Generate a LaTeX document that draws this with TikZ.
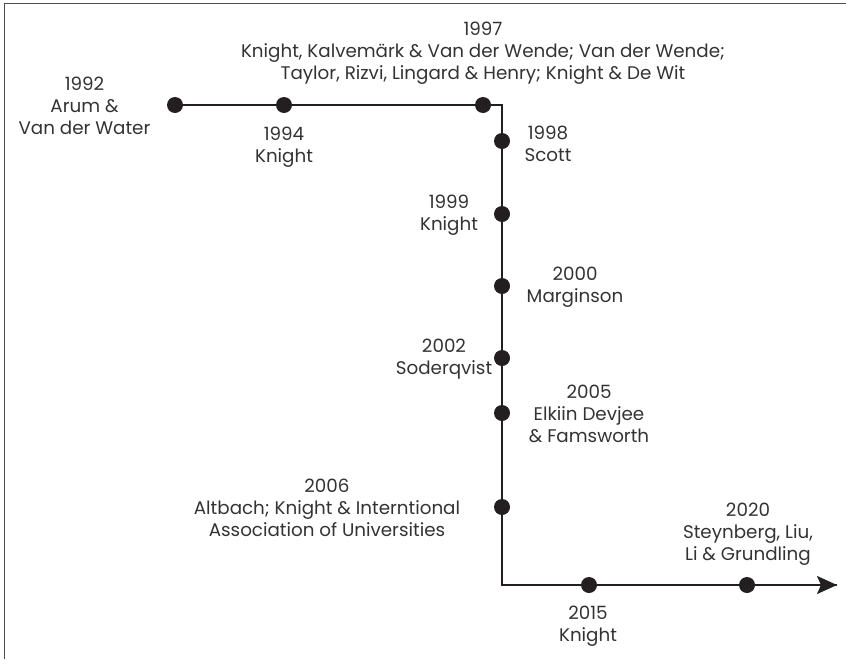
\documentclass[tikz,border=0pt]{standalone}
\usepackage{fontspec}
\setmainfont{Poppins}
\usetikzlibrary{arrows.meta}
\definecolor{ink}{HTML}{231F20}
\definecolor{txt}{HTML}{333333}
\begin{document}
\begin{tikzpicture}[x=1pt,y=-1pt,
  dot/.style={circle,fill=ink,inner sep=0pt,minimum size=16pt},
  tl/.style={draw=ink,line width=2pt},
  lbl/.style={align=center,text=txt,inner sep=0pt,yshift=-2.5pt,font=\fontsize{18.3}{22}\selectfont},
  frame/.style={draw=ink!80,line width=1.3pt}]
\useasboundingbox (0,0) rectangle (846,659);
% frame
\coordinate (ftl) at (4.3,3.3);
\coordinate (ftr) at (846,3.3);
\coordinate (fbl) at (4.3,659);
\draw[frame] (ftr) -- (ftl) -- (fbl);
% timeline points
\coordinate (p1992) at (175,105);
\coordinate (p1994) at (284,105);
\coordinate (p1997) at (483,105);
\coordinate (c1) at (502,105);
\coordinate (p1998) at (502,141);
\coordinate (p1999) at (502,214);
\coordinate (p2000) at (502,286);
\coordinate (p2002) at (502,358);
\coordinate (p2005) at (502,413);
\coordinate (p2006) at (502,507);
\coordinate (c2) at (502,585);
\coordinate (p2015) at (589,585);
\coordinate (p2020) at (747,585);
\coordinate (tip) at (837,585);
\draw[tl,miter limit=10] (p1992) -- (c1) -- (c2) -- (tip);
\draw[tl,-{Stealth[length=20pt,width=18pt,inset=4pt]}] (p2020) -- (tip);
\foreach \p in {1992,1994,1997,1998,1999,2000,2002,2005,2006,2015,2020}
  \node[dot] (d\p) at (p\p) {};
% labels
\node[lbl] (l1992) at (84.5,103.5) {1992\\Arum \&\\Van der Water};
\node[lbl] (l1994) at (284,144.5) {1994\\Knight};
\node[lbl] (l1997) at (483,50.5) {1997\\Knight, Kalvemärk \& Van der Wende; Van der Wende;\\Taylor, Rizvi, Lingard \& Henry; Knight \& De Wit};
\node[lbl] (l1998) at (548,141) {1998\\Scott};
\node[lbl] (l1999) at (449,213) {1999\\Knight};
\node[lbl] (l2000) at (575,285) {2000\\Marginson};
\node[lbl] (l2002) at (444,357) {2002\\Soderqvist};
\node[lbl] (l2005) at (589,411.5) {2005\\Elkiin Devjee\\\& Famsworth};
\node[lbl] (l2006) at (327,505.5) {2006\\Altbach; Knight \& Interntional\\Association of Universities};
\node[lbl] (l2015) at (588,624) {2015\\Knight};
\node[lbl] (l2020) at (748,531.5) {2020\\Steynberg, Liu,\\Li \& Grundling};
\end{tikzpicture}
\end{document}
